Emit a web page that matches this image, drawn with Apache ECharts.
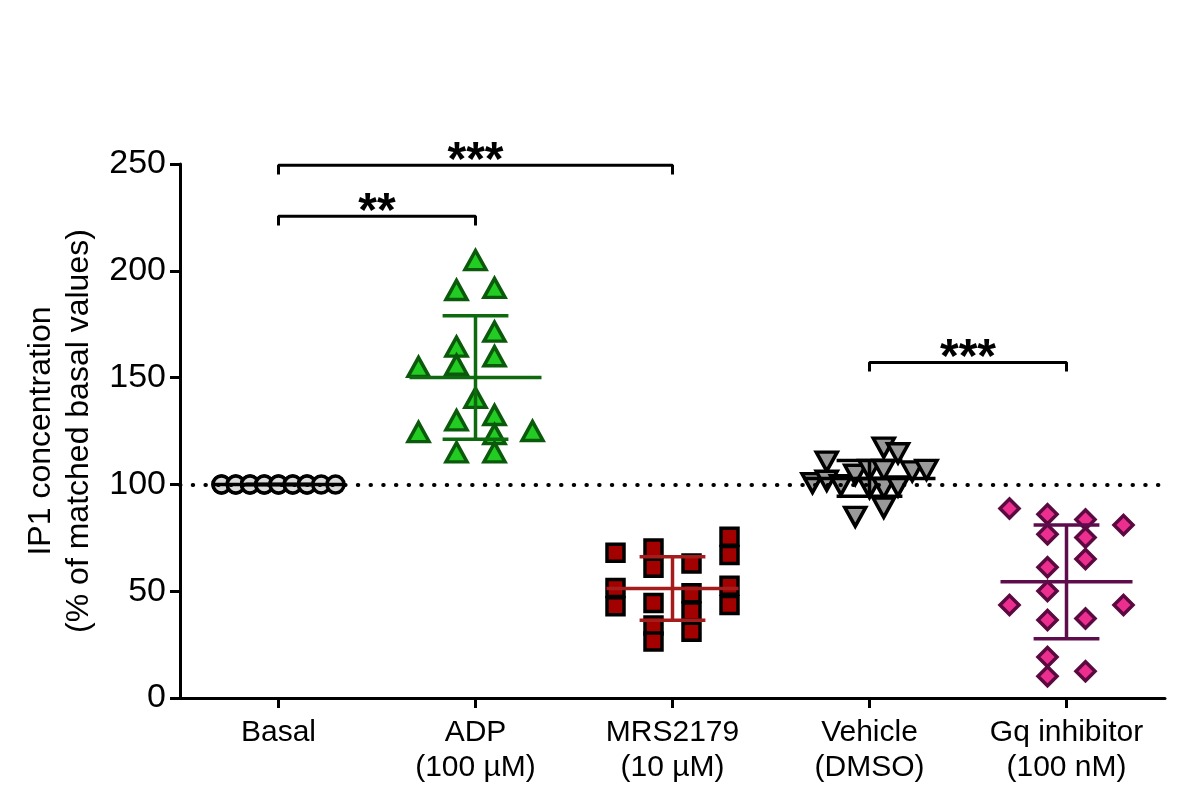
<!DOCTYPE html>
<html><head><meta charset="utf-8">
<script src="https://cdn.jsdelivr.net/npm/echarts@6/dist/echarts.min.js"></script>
<style>html,body{margin:0;padding:0;background:#fff}#c{width:1181px;height:785px}</style>
</head><body><div id="c"></div>
<script>
// ---- data ----
const categories = ['Basal', 'ADP\n(100 µM)', 'MRS2179\n(10 µM)', 'Vehicle\n(DMSO)', 'Gq inhibitor\n(100 nM)'];
const yTicks = [0, 50, 100, 150, 200, 250];

const basalValues = [100,100,100,100,100,100,100,100,100,100,100,100,100,100,100,100];
const basalSlots  = [-3,-3,-2.25,-2.25,-1.5,-1.5,-0.75,-0.75,0,0,0.75,0.75,1.5,1.5,2.25,3];

const adpValues = [205,191,192,171.5,164.5,160,155,156,140.5,130,132.5,123.5,124.5,125,115,115];
const adpSlots  = [0,-1,1,1,-1,1,-3,-1,0,-1,1,1,-3,3,-1,1];

const mrsValues = [68,51.5,43, 70,61,44.5,34,26.5, 63,49,40.5,31, 75.5,67,52.5,43.5];
const mrsSlots  = [-3,-3,-3, -1,-1,-1,-1,-1, 1,1,1,1, 3,3,3,3];

const vehValues = [100.6, 110.7,101.7, 99.6, 104.5,84.8, 106.8,98.3, 117.2,106.8,98.3,89.1, 114.6,99.1, 106.1, 106.8];
const vehSlots  = [-3, -2.25,-2.25, -1.5, -0.75,-0.75, 0,0, 0.75,0.75,0.75,0.75, 1.5,1.5, 2.25, 3];

const gqValues = [88.7,43.5, 86,76.7,61.2,50.1,36.5,19.2,10.2, 83.6,75.1,65.1,37.2,12.5, 81,43.5];
const gqSlots  = [-3,-3, -1,-1,-1,-1,-1,-1,-1, 1,1,1,1,1, 3,3];

const sigPairs  = [[0,2],[0,1],[3,4]];
const sigLevels = [249.4, 225.5, 157.1];
const sigLabels = ['***','**','***'];
const refLevel = 100;

// ---- styles ----
const FONT = 'Liberation Sans, Arial, sans-serif';
const SLOT = 19/197;
const groups = [
  {vals: basalValues, slots: basalSlots, symbol:'circle', size:17, rotate:0, fill:'#dcdcdc', border:'#000', line:'#000'},
  {vals: adpValues, slots: adpSlots, symbol:'triangle', size:[21,19], rotate:0, fill:'#22cc22', border:'#0b5a0b', line:'#0f6a0f'},
  {vals: mrsValues, slots: mrsSlots, symbol:'rect', size:17, rotate:0, fill:'#a30000', border:'#000', line:'#a51c1c'},
  {vals: vehValues, slots: vehSlots, symbol:'triangle', size:[21,19], rotate:180, fill:'#999999', border:'#000', line:'#000'},
  {vals: gqValues, slots: gqSlots, symbol:'diamond', size:19, rotate:0, fill:'#ec2f8f', border:'#5a0a40', line:'#5e0d4c'}
];

function mean(a){return a.reduce((s,v)=>s+v,0)/a.length;}
function sd(a){const m=mean(a);return Math.sqrt(a.reduce((s,v)=>s+(v-m)*(v-m),0)/(a.length-1));}

const series = [];
// dotted reference line
series.push({
  type:'line', xAxisIndex:1, yAxisIndex:0, data:[], z:1, silent:true,
  markLine:{silent:true, symbol:['none','none'], label:{show:false},
    lineStyle:{color:'#000', width:4, type:[0.5,12.2], cap:'round'},
    data:[{yAxis: refLevel}]}
});
groups.forEach((g,ci)=>{
  series.push({
    type:'scatter', xAxisIndex:1, yAxisIndex:0, z:2,
    symbol:g.symbol, symbolSize:g.size, symbolRotate:g.rotate,
    itemStyle:{color:g.fill, borderColor:g.border, borderWidth:3.5, opacity:1},
    data: g.vals.map((v,i)=>[ci + g.slots[i]*SLOT, v])
  });
});
// mean ± SD
series.push({
  type:'custom', xAxisIndex:1, yAxisIndex:0, z:5,
  data: groups.map((g,ci)=>[ci, mean(g.vals), sd(g.vals), ci]),
  renderItem:(params, api)=>{
    const x=api.value(0), m=api.value(1), s=api.value(2), gi=api.value(3);
    const c=api.coord([x,m]), t=api.coord([x,m+s]), b=api.coord([x,m-s]);
    const w=api.size([1,0])[0];
    const hm=w*0.335, hc=w*0.167;
    const style={stroke:groups[gi].line, lineWidth:3.5};
    return {type:'group', children:[
      {type:'line', shape:{x1:c[0]-hm,y1:c[1],x2:c[0]+hm,y2:c[1]}, style},
      {type:'line', shape:{x1:t[0],y1:t[1],x2:b[0],y2:b[1]}, style},
      {type:'line', shape:{x1:t[0]-hc,y1:t[1],x2:t[0]+hc,y2:t[1]}, style},
      {type:'line', shape:{x1:b[0]-hc,y1:b[1],x2:b[0]+hc,y2:b[1]}, style}
    ]};
  }
});
// significance brackets
const LEG = 4.3;
sigPairs.forEach((p,i)=>{
  const lv=sigLevels[i];
  series.push({
    type:'line', xAxisIndex:1, yAxisIndex:0, z:3, symbol:'none', silent:true,
    lineStyle:{color:'#000', width:3},
    data:[[p[0],lv-LEG],[p[0],lv],[p[1],lv],[p[1],lv-LEG]]
  });
});
series.push({
  type:'scatter', xAxisIndex:1, yAxisIndex:0, z:3, symbolSize:0, silent:true,
  data: sigPairs.map((p,i)=>[(p[0]+p[1])/2, sigLevels[i], sigLabels[i]]),
  label:{show:true, position:'inside', offset:[0,-4], formatter:(pp)=>pp.value[2],
    color:'#000', opacity:1, textBorderWidth:0, fontSize:48, fontWeight:'bold', fontFamily:FONT}
});

const chart = echarts.init(document.getElementById('c'), null, {renderer:'canvas'});
chart.setOption({
  animation:false,
  backgroundColor:'#fff',
  grid:{left:180, right:16, top:164, bottom:80, containLabel:false},
  xAxis:[
    {type:'category', data:categories, boundaryGap:true,
     axisLine:{show:true, onZero:false, lineStyle:{color:'#000', width:3}},
     axisTick:{show:true, alignWithLabel:true, length:10, lineStyle:{color:'#000', width:3}},
     axisLabel:{interval:0, color:'#000', fontSize:30, lineHeight:35, margin:17, fontFamily:FONT},
     splitLine:{show:false}},
    {type:'value', min:-0.5, max:4.5, show:false, splitLine:{show:false}}
  ],
  yAxis:[{type:'value', min:yTicks[0], max:yTicks[yTicks.length-1], interval:50,
    name:'IP1 concentration\n(% of matched basal values)', nameLocation:'middle', nameGap:80, nameRotate:90,
    nameTextStyle:{color:'#000', fontSize:32, lineHeight:38, fontFamily:FONT},
    axisLine:{show:true, onZero:false, lineStyle:{color:'#000', width:3}},
    axisTick:{show:true, length:10, lineStyle:{color:'#000', width:3}},
    axisLabel:{color:'#000', fontSize:34, margin:14, fontFamily:FONT},
    splitLine:{show:false}}],
  series
});
</script></body></html>
